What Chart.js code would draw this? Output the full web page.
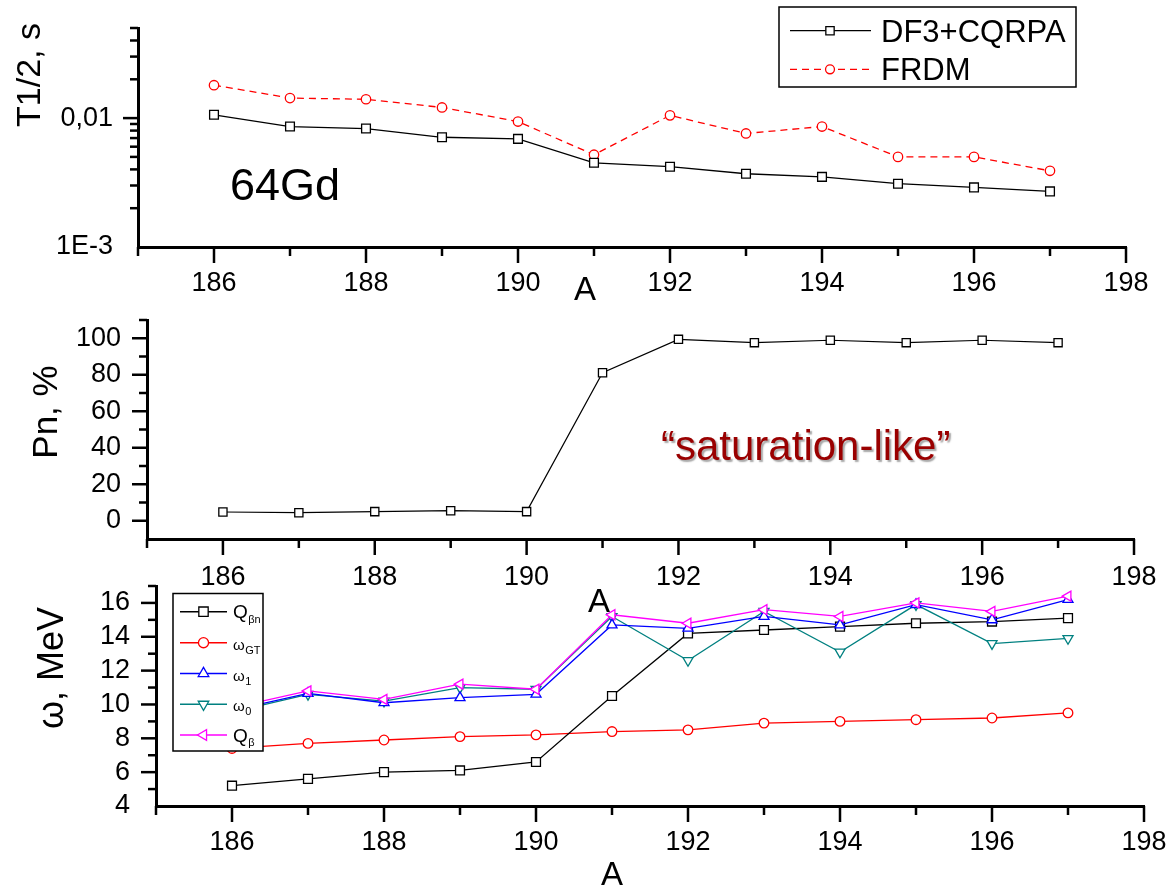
<!DOCTYPE html>
<html><head><meta charset="utf-8">
<script src="https://cdn.jsdelivr.net/npm/chart.js@4.4.0/dist/chart.umd.min.js"></script>
<style>
html,body{margin:0;padding:0;background:#fff;}
#wrap{position:relative;width:1174px;height:889px;overflow:hidden;background:#fff;}
canvas{position:absolute;left:0;}
</style></head><body>
<div id="wrap">
<canvas id="c1" width="1174" height="305" style="top:0px"></canvas>
<canvas id="c2" width="1174" height="330" style="top:290px"></canvas>
<canvas id="c3" width="1174" height="329" style="top:560px"></canvas>
</div>
<script>
// ---------------- DATA ----------------
const massNumbers = [186, 187, 188, 189, 190, 191, 192, 193, 194, 195, 196, 197];

// Panel 1: half-lives (s), log scale
const halfLifeDF3 = [0.0106, 0.0086, 0.0083, 0.0071, 0.0069, 0.0045, 0.0042, 0.0037, 0.0035, 0.0031, 0.0029, 0.0027];
const halfLifeFRDM = [0.0180, 0.0143, 0.0140, 0.0121, 0.0094, 0.0052, 0.0105, 0.0076, 0.0086, 0.0050, 0.0050, 0.0039];

// Panel 2: delayed-neutron emission probability (%)
const pnPercent = [4.8, 4.4, 5.0, 5.5, 5.0, 81.1, 99.4, 97.6, 98.9, 97.6, 98.9, 97.6];

// Panel 3: energies (MeV)
const qBetaN  = [5.2, 5.6, 6.0, 6.1, 6.6, 10.5, 14.2, 14.4, 14.6, 14.8, 14.9, 15.1];
const omegaGT = [7.4, 7.7, 7.9, 8.1, 8.2, 8.4, 8.5, 8.9, 9.0, 9.1, 9.2, 9.5];
const omega1  = [9.65, 10.65, 10.1, 10.4, 10.6, 14.7, 14.5, 15.2, 14.7, 15.9, 15.0, 16.2];
const omega0  = [9.55, 10.6, 10.2, 11.0, 10.9, 15.2, 12.6, 15.5, 13.1, 15.9, 13.6, 13.9];
const qBeta   = [9.8, 10.8, 10.3, 11.2, 10.9, 15.3, 14.8, 15.6, 15.2, 16.0, 15.5, 16.4];

// Tick labels
const xTickLabels = [186, 188, 190, 192, 194, 196, 198];
const t12TickValues = [0.001, 0.01];
const t12TickLabels = ['1E-3', '0,01'];
const t12MinorTicks = [0.002, 0.003, 0.004, 0.005, 0.006, 0.007, 0.008, 0.009, 0.02, 0.03, 0.04, 0.05];
const pnTickLabels = [0, 20, 40, 60, 80, 100];
const omegaTickLabels = [4, 6, 8, 10, 12, 14, 16];

// Series names
const panel1Names = ['DF3+CQRPA', 'FRDM'];
const panel3Names = [['Q', 'βn'], ['ω', 'GT'], ['ω', '1'], ['ω', '0'], ['Q', 'β']];

// ---------------- HELPERS ----------------
Chart.defaults.font.family = "'Liberation Sans', Arial, Helvetica, sans-serif";
Chart.defaults.color = '#000';

function pts(ys) { return massNumbers.map((x, i) => ({ x: x, y: ys[i] })); }
function near(a, b) { return Math.abs(a - b) < 1e-9 * Math.max(1, Math.abs(b)); }

function drawMarker(ctx, ds, x, y, scale) {
  const H = Chart.helpers;
  ctx.save();
  ctx.fillStyle = '#fff';
  ctx.strokeStyle = ds.pointBorderColor;
  ctx.lineWidth = ds.pointBorderWidth;
  if (H && H.drawPoint) {
    H.drawPoint(ctx, { pointStyle: ds.pointStyle, rotation: ds.pointRotation || 0,
      radius: ds.pointRadius * (scale || 1), borderWidth: ds.pointBorderWidth }, x, y);
  }
  ctx.restore();
}

const axisTicks = {
  id: 'axisTicks',
  afterDraw(chart, args, opts) {
    const ctx = chart.ctx, ca = chart.chartArea;
    const xs = chart.scales.x, ys = chart.scales.y;
    ctx.save();
    ctx.strokeStyle = '#000';
    ctx.lineWidth = 2.5;
    xs.ticks.forEach(t => {
      const major = xTickLabels.some(v => near(v, t.value));
      const len = major ? 16 : 9;
      const p = xs.getPixelForValue(t.value);
      ctx.beginPath(); ctx.moveTo(p, ca.bottom); ctx.lineTo(p, ca.bottom + len); ctx.stroke();
    });
    ys.ticks.forEach(t => {
      if (near(t.value, ys.min)) return;
      const major = (opts.yMajor || []).some(v => near(v, t.value));
      const len = major ? 15 : 8;
      const p = ys.getPixelForValue(t.value);
      ctx.beginPath(); ctx.moveTo(ca.left, p); ctx.lineTo(ca.left - len, p); ctx.stroke();
    });
    ctx.restore();
  }
};

const textPlugin = {
  id: 'texts',
  afterDraw(chart, args, opts) {
    const ctx = chart.ctx;
    (opts.items || []).forEach(it => {
      ctx.save();
      ctx.font = it.font;
      ctx.fillStyle = it.color || '#000';
      ctx.textAlign = it.align || 'left';
      ctx.textBaseline = 'alphabetic';
      if (it.shadow) {
        ctx.shadowColor = 'rgba(0,0,0,0.35)';
        ctx.shadowOffsetX = 2; ctx.shadowOffsetY = 2; ctx.shadowBlur = 1.5;
      }
      ctx.translate(it.x, it.y);
      if (it.rotate) ctx.rotate(it.rotate);
      ctx.fillText(it.text, 0, 0);
      ctx.restore();
    });
  }
};

const legendPlugin = {
  id: 'boxLegend',
  afterDraw(chart, args, o) {
    if (!o || !o.box) return;
    const ctx = chart.ctx;
    const b = o.box;
    ctx.save();
    ctx.fillStyle = '#fff';
    ctx.fillRect(b.x, b.y, b.w, b.h);
    ctx.strokeStyle = '#000';
    ctx.lineWidth = 1.5;
    ctx.strokeRect(b.x, b.y, b.w, b.h);
    chart.data.datasets.forEach((ds, i) => {
      const idx = o.order ? o.order[i] : i;
      const ry = o.rows[idx];
      ctx.save();
      ctx.strokeStyle = ds.borderColor;
      ctx.lineWidth = o.lineWidth || ds.borderWidth;
      ctx.setLineDash(ds.borderDash || []);
      ctx.beginPath(); ctx.moveTo(o.lineX0, ry); ctx.lineTo(o.lineX1, ry); ctx.stroke();
      ctx.restore();
      drawMarker(ctx, ds, o.markerX, ry, o.markerScale);
      ctx.fillStyle = '#000';
      ctx.textAlign = 'left';
      ctx.textBaseline = 'alphabetic';
      const name = o.names[idx];
      if (Array.isArray(name)) {
        const isOmega = name[0] === 'ω';
        ctx.font = isOmega ? o.omegaFont : o.font;
        ctx.fillText(name[0], o.textX, ry + (isOmega ? o.omegaDy : o.textDy));
        const w = ctx.measureText(name[0]).width;
        ctx.font = o.subFont;
        ctx.fillText(name[1], o.textX + w + 0.5, ry + o.subDy);
      } else {
        ctx.font = o.font;
        ctx.fillText(name, o.textX, ry + o.textDy);
      }
    });
    ctx.restore();
  }
};

function xScale(pad, h) {
  return {
    type: 'linear', min: 185, max: 198,
    ticks: { stepSize: 1, autoSkip: false, maxRotation: 0, minRotation: 0, padding: pad,
      font: { size: 27 }, color: '#000',
      callback: (v) => xTickLabels.some(t => near(t, v)) ? String(v) : '' },
    grid: { display: false, drawTicks: false },
    border: { display: true, width: 3, color: '#000' },
    afterFit(s) { s.height = h; s.paddingLeft = 0; s.paddingRight = 0; s.paddingTop = 0; s.paddingBottom = 0; }
  };
}
function yFit(w) {
  return function (s) { s.width = w; s.paddingTop = 0; s.paddingBottom = 0; s.paddingLeft = 0; s.paddingRight = 0; };
}

const baseOpts = {
  responsive: false, animation: false, devicePixelRatio: 1,
  events: [],
};

// ---------------- PANEL 1 ----------------
new Chart(document.getElementById('c1'), {
  type: 'line',
  data: {
    datasets: [
      { label: panel1Names[0], data: pts(halfLifeDF3), borderColor: '#000', borderWidth: 1.3,
        pointStyle: 'rect', pointRadius: 6.2, pointBorderColor: '#000', pointBackgroundColor: '#fff',
        pointBorderWidth: 1.3, tension: 0 },
      { label: panel1Names[1], data: pts(halfLifeFRDM), borderColor: '#ff0000', borderWidth: 1.3,
        borderDash: [7, 5], pointStyle: 'circle', pointRadius: 4.7, pointBorderColor: '#ff0000',
        pointBackgroundColor: '#fff', pointBorderWidth: 1.3, tension: 0 }
    ]
  },
  options: Object.assign({}, baseOpts, {
    layout: { padding: { top: 28, right: 48, left: 0, bottom: 0 } },
    scales: {
      x: xScale(20, 58),
      y: {
        type: 'logarithmic', min: 0.001, max: 0.05,
        afterBuildTicks(s) { s.ticks = t12TickValues.concat(t12MinorTicks).sort((a, b) => a - b).map(v => ({ value: v })); },
        ticks: { padding: 25, font: { size: 27 }, color: '#000', autoSkip: false,
          callback: (v) => { const i = t12TickValues.findIndex(t => near(t, v)); return i >= 0 ? t12TickLabels[i] : ''; } },
        grid: { display: false, drawTicks: false },
        border: { display: true, width: 3, color: '#000' },
        afterFit: yFit(138)
      }
    },
    plugins: {
      legend: { display: false }, tooltip: { enabled: false },
      axisTicks: { yMajor: t12TickValues },
      texts: { items: [
        { text: '64Gd', x: 230, y: 200, font: '45px "Liberation Sans", Arial, sans-serif' },
        { text: 'A', x: 585, y: 300, font: '33px "Liberation Sans", Arial, sans-serif', align: 'center' },
        { text: 'T1/2, s', x: 40, y: 75, font: '34px "Liberation Sans", Arial, sans-serif', align: 'center', rotate: -Math.PI / 2 }
      ] },
      boxLegend: {
        box: { x: 779, y: 7, w: 297, h: 80 },
        rows: [30.7, 69.3], names: panel1Names,
        lineX0: 790, lineX1: 871, markerX: 830, markerScale: 0.95, lineWidth: 1.3,
        textX: 881, textDy: 11, font: '31px "Liberation Sans", Arial, sans-serif'
      }
    }
  }),
  plugins: [axisTicks, textPlugin, legendPlugin]
});

// ---------------- PANEL 2 ----------------
new Chart(document.getElementById('c2'), {
  type: 'line',
  data: {
    datasets: [
      { label: 'Pn', data: pts(pnPercent), borderColor: '#000', borderWidth: 1.2,
        pointStyle: 'rect', pointRadius: 5.8, pointBorderColor: '#000', pointBackgroundColor: '#fff',
        pointBorderWidth: 1.3, tension: 0 }
    ]
  },
  options: Object.assign({}, baseOpts, {
    layout: { padding: { top: 30, right: 40, left: 0, bottom: 0 } },
    scales: {
      x: xScale(22, 81),
      y: {
        type: 'linear', min: -10, max: 110,
        ticks: { stepSize: 10, padding: 26, font: { size: 27 }, color: '#000', autoSkip: false,
          callback: (v) => pnTickLabels.some(t => near(t, v)) ? String(v) : '' },
        grid: { display: false, drawTicks: false },
        border: { display: true, width: 3, color: '#000' },
        afterFit: yFit(147)
      }
    },
    plugins: {
      legend: { display: false }, tooltip: { enabled: false },
      axisTicks: { yMajor: pnTickLabels },
      texts: { items: [
        { text: '\u201Csaturation-like\u201D', x: 661, y: 170, font: '42px "Liberation Sans", Arial, sans-serif', color: '#9a0000', shadow: true },
        { text: 'A', x: 599, y: 322, font: '33px "Liberation Sans", Arial, sans-serif', align: 'center' },
        { text: 'Pn, %', x: 57, y: 122, font: '35px "Liberation Sans", Arial, sans-serif', align: 'center', rotate: -Math.PI / 2 }
      ] }
    }
  }),
  plugins: [axisTicks, textPlugin]
});

// ---------------- PANEL 3 ----------------
function omegaDs(name, vals, color, style, rot, r, order) {
  return { label: name, data: pts(vals), borderColor: color, borderWidth: 1.3,
    pointStyle: style, pointRotation: rot, pointRadius: r, pointBorderColor: color,
    pointBackgroundColor: '#fff', pointBorderWidth: 1.3, tension: 0, order: order };
}
new Chart(document.getElementById('c3'), {
  type: 'line',
  data: {
    datasets: [
      omegaDs('Qbn', qBetaN, '#000000', 'rect', 0, 6.3, 3),
      omegaDs('wGT', omegaGT, '#ff0000', 'circle', 0, 4.8, 4),
      omegaDs('w1', omega1, '#0000ff', 'triangle', 0, 5.8, 1),
      omegaDs('w0', omega0, '#008080', 'triangle', 180, 5.8, 2),
      omegaDs('Qb', qBeta, '#ff00ff', 'triangle', 270, 5.8, 0)
    ]
  },
  options: Object.assign({}, baseOpts, {
    layout: { padding: { top: 26, right: 30, left: 0, bottom: 0 } },
    scales: {
      x: xScale(20, 83),
      y: {
        type: 'linear', min: 4, max: 17,
        ticks: { stepSize: 1, padding: 26, font: { size: 27 }, color: '#000', autoSkip: false,
          callback: (v) => omegaTickLabels.some(t => near(t, v)) ? String(v) : '' },
        grid: { display: false, drawTicks: false },
        border: { display: true, width: 3, color: '#000' },
        afterFit: yFit(156)
      }
    },
    plugins: {
      legend: { display: false }, tooltip: { enabled: false },
      axisTicks: { yMajor: omegaTickLabels },
      texts: { items: [
        { text: 'A', x: 612, y: 325, font: '33px "Liberation Sans", Arial, sans-serif', align: 'center' },
        { text: 'ω, MeV', x: 63, y: 108, font: '36px "Liberation Sans", Arial, sans-serif', align: 'center', rotate: -Math.PI / 2 }
      ] },
      boxLegend: {
        box: { x: 173, y: 33.5, w: 90, h: 157.5 },
        rows: [51.7, 82.7, 113.5, 144.3, 175], names: panel3Names,
        lineX0: 180, lineX1: 227, markerX: 203.5, markerScale: 1.05, lineWidth: 1.5,
        textX: 233, textDy: 6.5, omegaDy: 7, subDy: 11,
        font: '19px "Liberation Sans", Arial, sans-serif',
        omegaFont: '15px "Liberation Sans", Arial, sans-serif',
        subFont: '11px "Liberation Sans", Arial, sans-serif'
      }
    }
  }),
  plugins: [axisTicks, textPlugin, legendPlugin]
});
</script>
</body></html>
